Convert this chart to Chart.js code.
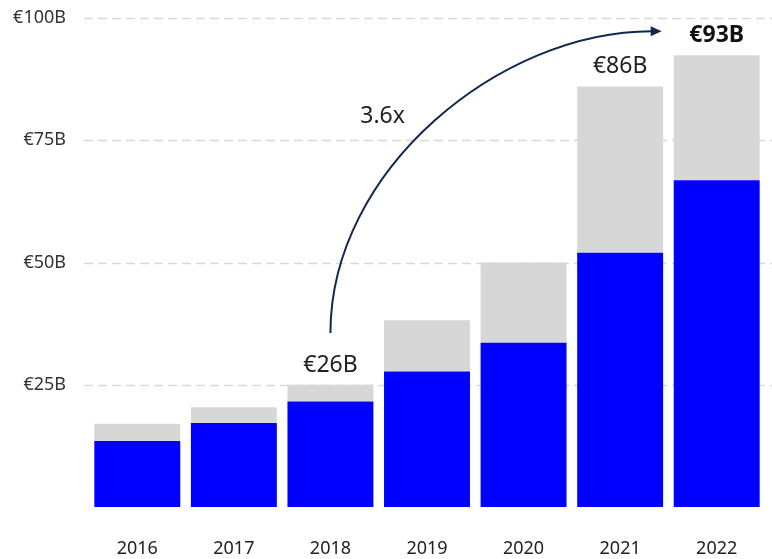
<!DOCTYPE html>
<html>
<head>
<meta charset="utf-8">
<script src="https://cdn.jsdelivr.net/npm/chart.js@4"></script>
<style>
  html, body { margin: 0; padding: 0; background: #fff; }
  #wrap { width: 772px; height: 559px; position: relative; }
</style>
</head>
<body>
<div id="wrap"><canvas id="growthChart"></canvas></div>
<script>
const years = ["2016", "2017", "2018", "2019", "2020", "2021", "2022"];
const blueValues = [13.5, 17.2, 21.6, 27.7, 33.6, 52.0, 66.8];
const greyValues = [3.5, 3.2, 3.4, 10.5, 16.4, 34.0, 25.6];
const totalLabels = ["", "", "€26B", "", "", "€86B", "€93B"];
const boldLabels = [false, false, false, false, false, false, true];
const yTickValues = [25, 50, 75, 100];
const yTickLabels = ["€25B", "€50B", "€75B", "€100B"];
const growthText = "3.6x";

// arrow, in data units (category index, value)
const arrowStart = [2, 35.6];
const arrowCtrl1 = [2, 69];
const arrowCtrl2 = [3.76, 97.3];
const arrowEnd = [5.43, 97.3];
const growthTextAt = [2.54, 79.9];

Chart.defaults.font.family = "'Noto Sans', 'Open Sans', sans-serif";

const dashedGrid = {
  id: "dashedGrid",
  beforeDatasetsDraw(chart) {
    const ctx = chart.ctx;
    const y = chart.scales.y;
    ctx.save();
    ctx.strokeStyle = "#d9d9d9";
    ctx.lineWidth = 1.5;
    ctx.setLineDash([9, 5]);
    yTickValues.forEach((v) => {
      const py = Math.round(y.getPixelForValue(v)) + 0.5;
      ctx.beginPath();
      ctx.moveTo(chart.chartArea.left - 5, py);
      ctx.lineTo(chart.width, py);
      ctx.stroke();
    });
    ctx.restore();
  },
};

const annotations = {
  id: "annotations",
  afterDatasetsDraw(chart) {
    const ctx = chart.ctx;
    const x = chart.scales.x;
    const y = chart.scales.y;
    ctx.save();

    // totals above bars
    ctx.textAlign = "center";
    ctx.textBaseline = "alphabetic";
    totalLabels.forEach((label, i) => {
      if (!label) return;
      const total = blueValues[i] + greyValues[i];
      ctx.font = (boldLabels[i] ? "bold " : "") + "23px 'Noto Sans', 'Open Sans', sans-serif";
      ctx.fillStyle = boldLabels[i] ? "#111" : "#222";
      ctx.fillText(label, x.getPixelForValue(i), y.getPixelForValue(total) - 13);
    });

    // growth text
    ctx.font = "23px 'Noto Sans', 'Open Sans', sans-serif";
    ctx.fillStyle = "#222";
    ctx.textBaseline = "middle";
    ctx.fillText(growthText, x.getPixelForValue(growthTextAt[0]), y.getPixelForValue(growthTextAt[1]));

    // curved arrow
    const px = (p) => [x.getPixelForValue(p[0]), y.getPixelForValue(p[1])];
    const s = px(arrowStart);
    const c1 = px(arrowCtrl1);
    const c2 = px(arrowCtrl2);
    const e = px(arrowEnd);
    const head = 11;
    ctx.strokeStyle = "#10284f";
    ctx.fillStyle = "#10284f";
    ctx.lineWidth = 2;
    ctx.beginPath();
    ctx.moveTo(s[0], s[1]);
    ctx.bezierCurveTo(c1[0], c1[1], c2[0], c2[1], e[0] - head + 1, e[1]);
    ctx.stroke();
    ctx.beginPath();
    ctx.moveTo(e[0], e[1]);
    ctx.lineTo(e[0] - head, e[1] - 5);
    ctx.lineTo(e[0] - head, e[1] + 5);
    ctx.closePath();
    ctx.fill();

    ctx.restore();
  },
};

function drawChart() {
  const ctx = document.getElementById("growthChart").getContext("2d");

  new Chart(ctx, {
    type: "bar",
    data: {
      labels: years,
      datasets: [
        {
          label: "blue",
          data: blueValues,
          backgroundColor: "#0000ff",
          borderWidth: 0,
        },
        {
          label: "grey",
          data: greyValues,
          backgroundColor: "#d7d7d7",
          borderWidth: 0,
        },
      ],
    },
    options: {
      responsive: true,
      maintainAspectRatio: false,
      animation: false,
      events: [],
      layout: {
        padding: { top: 18, right: 7, left: 0, bottom: 0 },
      },
      plugins: {
        legend: { display: false },
        tooltip: { enabled: false },
      },
      datasets: {
        bar: { barPercentage: 0.89, categoryPercentage: 1.0 },
      },
      scales: {
        x: {
          stacked: true,
          grid: { display: false, drawTicks: false },
          border: { display: false },
          afterFit: (scale) => {
            scale.height = 52;
          },
          ticks: {
            color: "#222",
            font: { size: 18 },
            padding: 31,
            maxRotation: 0,
          },
        },
        y: {
          stacked: true,
          min: 0,
          max: 100,
          grid: { display: false, drawTicks: false },
          border: { display: false },
          afterBuildTicks: (scale) => {
            scale.ticks = yTickValues.map((v) => ({ value: v }));
          },
          afterFit: (scale) => {
            scale.width = 89;
            scale.paddingTop = 0;
            scale.paddingBottom = 0;
          },
          ticks: {
            color: "#333",
            font: { size: 18 },
            padding: 23,
            callback: (value) => yTickLabels[yTickValues.indexOf(value)],
          },
        },
      },
    },
    plugins: [dashedGrid, annotations],
  });
}

drawChart();
</script>
</body>
</html>
